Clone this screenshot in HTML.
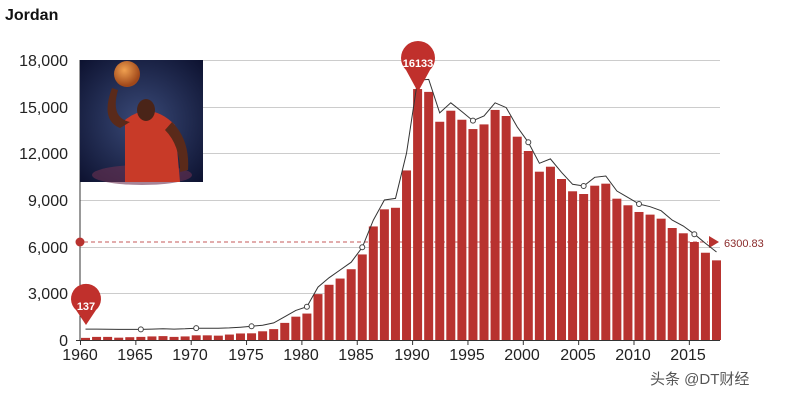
<!DOCTYPE html>
<html><head><meta charset="utf-8"><style>
html,body{margin:0;padding:0;background:#fff;width:800px;height:400px;overflow:hidden}
svg text{font-family:"Liberation Sans",sans-serif}
</style></head><body>
<svg id="s" width="800" height="400" xmlns="http://www.w3.org/2000/svg">
<defs>
<radialGradient id="bg" cx="0.5" cy="0.5" r="0.7"><stop offset="0" stop-color="#3a4a78"/><stop offset="1" stop-color="#0d1230"/></radialGradient>
<radialGradient id="ball" cx="0.4" cy="0.35" r="0.6"><stop offset="0" stop-color="#f0a050"/><stop offset="1" stop-color="#a0481a"/></radialGradient>
</defs>
<text x="5" y="20" font-size="16" font-weight="bold" fill="#111">Jordan</text>
<g stroke="#ccc" stroke-width="1">
<line x1="80" x2="720" y1="60.5" y2="60.5"/><line x1="80" x2="720" y1="107.5" y2="107.5"/>
<line x1="80" x2="720" y1="153.5" y2="153.5"/><line x1="80" x2="720" y1="200.5" y2="200.5"/>
<line x1="80" x2="720" y1="247.5" y2="247.5"/><line x1="80" x2="720" y1="293.5" y2="293.5"/>
</g>
<g font-size="16" fill="#222" text-anchor="end">
<text x="68" y="66">18,000</text><text x="68" y="113">15,000</text><text x="68" y="159">12,000</text>
<text x="68" y="206">9,000</text><text x="68" y="253">6,000</text><text x="68" y="299">3,000</text>
<text x="68" y="346">0</text>
</g>
<g font-size="16" fill="#222" text-anchor="middle">
<text x="80" y="360">1960</text><text x="135" y="360">1965</text><text x="190" y="360">1970</text>
<text x="246" y="360">1975</text><text x="301" y="360">1980</text><text x="356" y="360">1985</text>
<text x="412" y="360">1990</text><text x="467" y="360">1995</text><text x="522" y="360">2000</text>
<text x="578" y="360">2005</text><text x="633" y="360">2010</text><text x="688" y="360">2015</text>
</g>
<g id="bars" fill="#b8322f"></g>
<line x1="80" x2="80" y1="60" y2="340" stroke="#333"/>
<line x1="76" x2="720" y1="340.5" y2="340.5" stroke="#333"/>
<g id="ticks" stroke="#333"></g>
<line x1="84" x2="708" y1="242" y2="242" stroke="#b8322f" stroke-dasharray="4,3" opacity="0.8"/>
<circle cx="80" cy="242" r="4.5" fill="#b8322f"/>
<path d="M709,236 L719,242 L709,248 Z" fill="#b8322f"/>
<text x="724" y="247" font-size="11" fill="#8a2a2a">6300.83</text>
<path id="line" fill="none" stroke="#333" stroke-width="1"/>
<g id="marks" fill="#fff" stroke="#444"></g>
<path d="M86,325 L76,310 A15,15 0 1 1 96,310 Z" fill="#c0302c"/>
<text x="86" y="310" font-size="11" font-weight="bold" fill="#fff" text-anchor="middle">137</text>
<path d="M418,92 L406,70 A17,17 0 1 1 430,70 Z" fill="#c0302c"/>
<text x="418" y="67" font-size="11" font-weight="bold" fill="#fff" text-anchor="middle">16133</text>
<rect x="80" y="60" width="123" height="122" fill="url(#bg)"/>
<ellipse cx="142" cy="175" rx="50" ry="10" fill="#6a3050" opacity="0.6"/>
<path d="M125,120 Q150,100 175,125 L180,182 L125,182 Z" fill="#c83a28"/>
<ellipse cx="146" cy="110" rx="9" ry="11" fill="#4a2418"/>
<path d="M120,128 Q100,120 112,88 L118,90 Q110,118 130,122 Z" fill="#5a2a1a"/>
<path d="M172,122 Q190,140 188,170 L180,172 Q180,145 165,130 Z" fill="#5a2a1a"/>
<circle cx="127" cy="74" r="13" fill="url(#ball)"/>
<text x="650" y="384" font-size="15" fill="#555" font-family="'Liberation Sans','Noto Sans CJK SC',sans-serif">头条 @DT财经</text>
</svg>
<script>
var bars=[137,200,200,150,180,200,230,250,200,230,300,300,280,350,420,430,560,700,1100,1500,1700,2950,3550,3950,4550,5500,7300,8400,8500,10900,16133,15950,14030,14740,14160,13560,13860,14790,14400,13070,12150,10820,11140,10350,9560,9385,9920,10050,9085,8660,8230,8060,7800,7200,6860,6300,5610,5120];
var line=[700,700,690,680,680,680,700,720,700,720,760,760,760,780,820,880,950,1100,1500,1900,2140,3400,4000,4500,5000,5960,7700,9000,9100,12000,16700,16750,14600,15250,14680,14100,14400,15250,14940,13700,12710,11360,11640,10780,10010,9900,10460,10540,9580,9170,8740,8570,8310,7710,7330,6800,6220,5660];
var ns="http://www.w3.org/2000/svg",step=11.07;
function Y(v){return 340-v*280/18000}
var g=document.getElementById('bars'),d="",m=document.getElementById('marks'),t=document.getElementById('ticks');
for(var i=0;i<bars.length;i++){
 var x=80+i*step+1;
 var r=document.createElementNS(ns,'rect');r.setAttribute('x',x);r.setAttribute('width',9);
 r.setAttribute('y',Y(bars[i]));r.setAttribute('height',340-Y(bars[i]));g.appendChild(r);
 var cx=x+4.5;d+=(i?"L":"M")+cx.toFixed(1)+","+Y(line[i]).toFixed(1);
 if(i%5==0&&i!=0&&i!=30){var c=document.createElementNS(ns,'circle');c.setAttribute('cx',cx);c.setAttribute('cy',Y(line[i]));c.setAttribute('r',2.5);m.appendChild(c);}
 if(i%5==0){var l=document.createElementNS(ns,'line');var tx=80+i*step+0.5;l.setAttribute('x1',tx);l.setAttribute('x2',tx);l.setAttribute('y1',340);l.setAttribute('y2',345);t.appendChild(l);}
}
document.getElementById('line').setAttribute('d',d);
</script>
</body></html>
